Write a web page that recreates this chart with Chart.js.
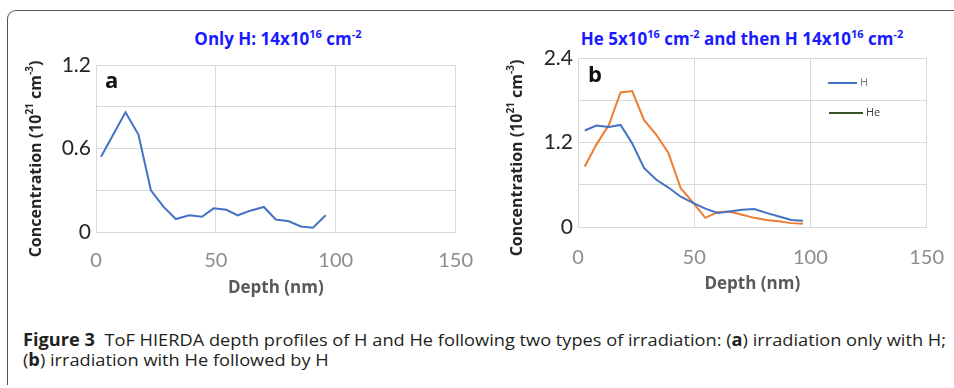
<!DOCTYPE html>
<html>
<head>
<meta charset="utf-8">
<script src="https://cdn.jsdelivr.net/npm/chart.js@4.4.1/dist/chart.umd.min.js"></script>
<style>
  body { margin: 0; background: #fff; width: 954px; height: 388px; overflow: hidden; position: relative; font-family: "Open Sans", sans-serif; }
  #frame { position: absolute; left: 7px; top: 10px; width: 980px; height: 374px; border-left: 1.5px solid #555; border-top: 1.5px solid #555; border-top-left-radius: 9px; }
  .ttl { position: absolute; top: 29px; text-align: center; color: #1a1aff; font-weight: bold; font-size: 17px; line-height: 20px; white-space: nowrap; }
  .ttl sup { font-size: 11px; vertical-align: 7px; line-height: 0; }
  canvas { position: absolute; top: 40px; }
  #cap { position: absolute; left: 23px; top: 330px; font-size: 17px; line-height: 20px; color: #231f20; white-space: nowrap; transform-origin: 0 0; }
</style>
</head>
<body>
<div id="frame"></div>
<div class="ttl" style="left:128px;width:300px">Only H: 14x10<sup>16</sup> cm<sup>-2</sup></div>
<div class="ttl" style="left:542px;width:400px">He 5x10<sup>16</sup> cm<sup>-2</sup> and then H 14x10<sup>16</sup> cm<sup>-2</sup></div>
<canvas id="chartA" width="490" height="260" style="left:0px"></canvas>
<canvas id="chartB" width="483" height="260" style="left:480px"></canvas>
<div id="cap">
  <span id="line1"><b>Figure 3</b>&nbsp; ToF HIERDA depth profiles of H and He following two types of irradiation: (<b>a</b>) irradiation only with H;</span><br>
  <span>(<b>b</b>) irradiation with He followed by H</span>
</div>
<script>
// panel a : only H
var depthA = [2.1, 7.2, 12.3, 17.7, 22.9, 28.2, 33.3, 38.9, 44.2, 49.1, 54.4, 59.1, 64.7, 70.0, 75.0, 80.5, 85.4, 90.5, 95.8];
var hA = [0.54, 0.70, 0.86, 0.70, 0.30, 0.18, 0.093, 0.12, 0.11, 0.17, 0.16, 0.12, 0.155, 0.18, 0.09, 0.077, 0.04, 0.03, 0.12];

// panel b : He then H
var depthB = [2.9, 7.9, 13.3, 18.3, 23.3, 28.4, 33.7, 38.9, 44.2, 49.7, 54.8, 60.1, 65.1, 70.6, 75.9, 81.0, 86.5, 91.8, 96.8];
var hB = [1.37, 1.44, 1.42, 1.45, 1.19, 0.84, 0.67, 0.56, 0.43, 0.34, 0.26, 0.20, 0.22, 0.245, 0.255, 0.20, 0.15, 0.10, 0.09];
var heB = [0.86, 1.17, 1.45, 1.91, 1.93, 1.52, 1.31, 1.05, 0.55, 0.34, 0.13, 0.21, 0.22, 0.175, 0.13, 0.10, 0.08, 0.055, 0.045];

var yMaxA = 1.2, yMaxB = 2.4;

function pts(xs, ys) {
    return xs.map(function (x, i) { return { x: x, y: ys[i] }; });
}

// y title with superscripts, panel letter and the little legend
const extras = {
    id: 'extras',
    afterDraw(chart, args, o) {
        const ctx = chart.ctx;
        ctx.save();
        ctx.translate(o.titleX, o.titleY);
        ctx.rotate(-Math.PI / 2);
        const big = 'bold 16px "Open Sans"', small = 'bold 10px "Open Sans"';
        let w = 0;
        o.parts.forEach(p => { ctx.font = p[1] ? small : big; w += ctx.measureText(p[0]).width; });
        let x = -w / 2;
        ctx.fillStyle = '#262626';
        ctx.textBaseline = 'middle';
        o.parts.forEach(p => {
            ctx.font = p[1] ? small : big;
            ctx.fillText(p[0], x, p[1] ? -6 : 0);
            x += ctx.measureText(p[0]).width;
        });
        ctx.restore();

        ctx.save();
        ctx.font = 'bold 22px "Open Sans"';
        ctx.fillStyle = '#111';
        ctx.textBaseline = 'alphabetic';
        ctx.fillText(o.letter, o.letterX, o.letterY);
        ctx.restore();

        if (o.legend) {
            ctx.save();
            ctx.font = '11px "Open Sans"';
            ctx.textBaseline = 'middle';
            o.legend.forEach((l, i) => {
                ctx.strokeStyle = l.color;
                ctx.lineWidth = 2;
                ctx.beginPath();
                ctx.moveTo(l.x1, l.y);
                ctx.lineTo(l.x2, l.y);
                ctx.stroke();
                ctx.fillStyle = l.text;
                ctx.fillText(chart.data.datasets[i].label, l.x2 + 3, l.y);
            });
            ctx.restore();
        }
    }
};

function makeOptions(yMax, pad, yW, xH, tickPad, titlePad, ex) {
    return {
        responsive: false,
        animation: false,
        devicePixelRatio: 1,
        layout: { padding: pad },
        plugins: { legend: { display: false }, tooltip: { enabled: false }, extras: ex },
        scales: {
            x: {
                type: 'linear', min: 0, max: 150,
                afterFit: s => { s.height = xH; },
                grid: { color: '#d9d9d9', drawTicks: false },
                border: { color: '#d9d9d9' },
                ticks: { stepSize: 50, padding: tickPad, color: '#8c8c8c', font: { family: 'Lato', size: 20 } },
                title: { display: true, text: 'Depth (nm)', color: '#595959', padding: { top: 0, bottom: titlePad }, font: { family: 'Open Sans', size: 17, weight: 'bold' } }
            },
            y: {
                min: 0, max: yMax,
                afterFit: s => { s.width = yW; },
                grid: { color: '#d9d9d9', drawTicks: false },
                border: { color: '#d9d9d9' },
                ticks: {
                    stepSize: yMax / 4, padding: 5, color: '#262626', font: { family: 'Lato', size: 21 },
                    callback: (v, i) => i % 2 ? '' : +v.toFixed(1)
                }
            }
        }
    };
}

var yParts = [['Concentration (10', 0], ['21', 1], [' cm', 0], ['-3', 1], [')', 0]];

function draw() {
    new Chart(document.getElementById('chartA'), {
        type: 'line',
        data: {
            datasets: [{ label: 'H', data: pts(depthA, hA), borderColor: '#4472c4', borderWidth: 2, pointRadius: 0, tension: 0 }]
        },
        options: makeOptions(yMaxA, { top: 25, right: 20, left: 0, bottom: 0 }, 96, 68, 17, 2,
            { parts: yParts, titleX: 36, titleY: 119, letter: 'a', letterX: 105, letterY: 48 }),
        plugins: [extras]
    });

    new Chart(document.getElementById('chartB'), {
        type: 'line',
        data: {
            datasets: [
                { label: 'H', data: pts(depthB, hB), borderColor: '#4472c4', borderWidth: 2, pointRadius: 0, tension: 0 },
                { label: 'He', data: pts(depthB, heB), borderColor: '#ed7d31', borderWidth: 2, pointRadius: 0, tension: 0 }
            ]
        },
        options: makeOptions(yMaxB, { top: 18, right: 27, left: 0, bottom: 0 }, 98, 73, 19, 6,
            {
                parts: yParts, titleX: 37, titleY: 118, letter: 'b', letterX: 108, letterY: 42,
                legend: [
                    { color: '#4472c4', text: '#7f7f7f', x1: 348, x2: 377, y: 43 },
                    { color: '#375623', text: '#404040', x1: 349, x2: 383, y: 73 }
                ]
            }),
        plugins: [extras]
    });

    // squeeze caption to the narrow width of the original
    var cap = document.getElementById('cap');
    var w1 = document.getElementById('line1').getBoundingClientRect().width;
    cap.style.transform = 'scaleX(' + (923 / w1) + ')';
}

document.fonts.load('bold 16px "Open Sans"').then(function () {
    return document.fonts.load('20px Lato');
}).then(draw, draw);
</script>
</body>
</html>
